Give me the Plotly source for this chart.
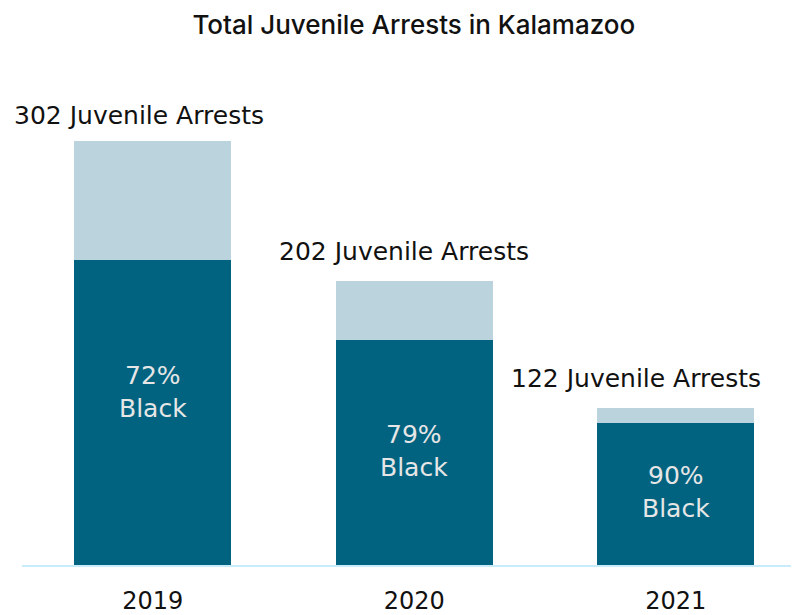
import plotly.graph_objects as go

years = ["2019", "2020", "2021"]
black_arrests = [217, 160, 101]
other_arrests = [85, 42, 11]
total_labels = [302, 202, 122]
pct_black = [72, 79, 90]

DARK = "#026380"
LIGHT = "#BAD3DC"
FONT = "DejaVu Sans"

fig = go.Figure()
fig.add_trace(go.Bar(x=years, y=black_arrests, marker=dict(color=DARK, line=dict(width=0)),
                     hoverinfo="skip", showlegend=False))
fig.add_trace(go.Bar(x=years, y=other_arrests, marker=dict(color=LIGHT, line=dict(width=0)),
                     hoverinfo="skip", showlegend=False))

label_xshift = [-14, -10, -40]
label_yshift = [25, 30, 29]
inner_yshift = [21, 2, 2]
for i, yr in enumerate(years):
    top = black_arrests[i] + other_arrests[i]
    fig.add_annotation(x=i, y=top, text=f"{total_labels[i]} Juvenile Arrests",
                       showarrow=False, xanchor="center", yanchor="middle",
                       yshift=label_yshift[i], xshift=label_xshift[i],
                       font=dict(family=FONT, size=25, color="#111111"))
    fig.add_annotation(x=i, y=black_arrests[i] / 2, text=f"{pct_black[i]}%<br>Black",
                       showarrow=False, xanchor="center", yanchor="middle",
                       yshift=inner_yshift[i],
                       font=dict(family=FONT, size=25, color="#E6E6E6"))

fig.update_layout(
    width=791, height=607,
    barmode="stack", bargap=0.4,
    paper_bgcolor="white", plot_bgcolor="white",
    margin=dict(l=14, r=0, t=52, b=45),
    title=dict(text="Total Juvenile Arrests in Kalamazoo", x=0.513, xanchor="center",
               y=0.972, yanchor="middle",
               font=dict(family="Inter", size=26, color="#111111", weight=500)),
    xaxis=dict(type="category", range=[-0.5, 2.471], showgrid=False, zeroline=False,
               showline=True, linecolor="#C8ECF9", linewidth=2,
               ticks="", ticklabelstandoff=13,
               tickfont=dict(family=FONT, size=24, color="#111111")),
    yaxis=dict(range=[0, 359.6], visible=False, showgrid=False, zeroline=False),
)

fig.write_html("out.html")
